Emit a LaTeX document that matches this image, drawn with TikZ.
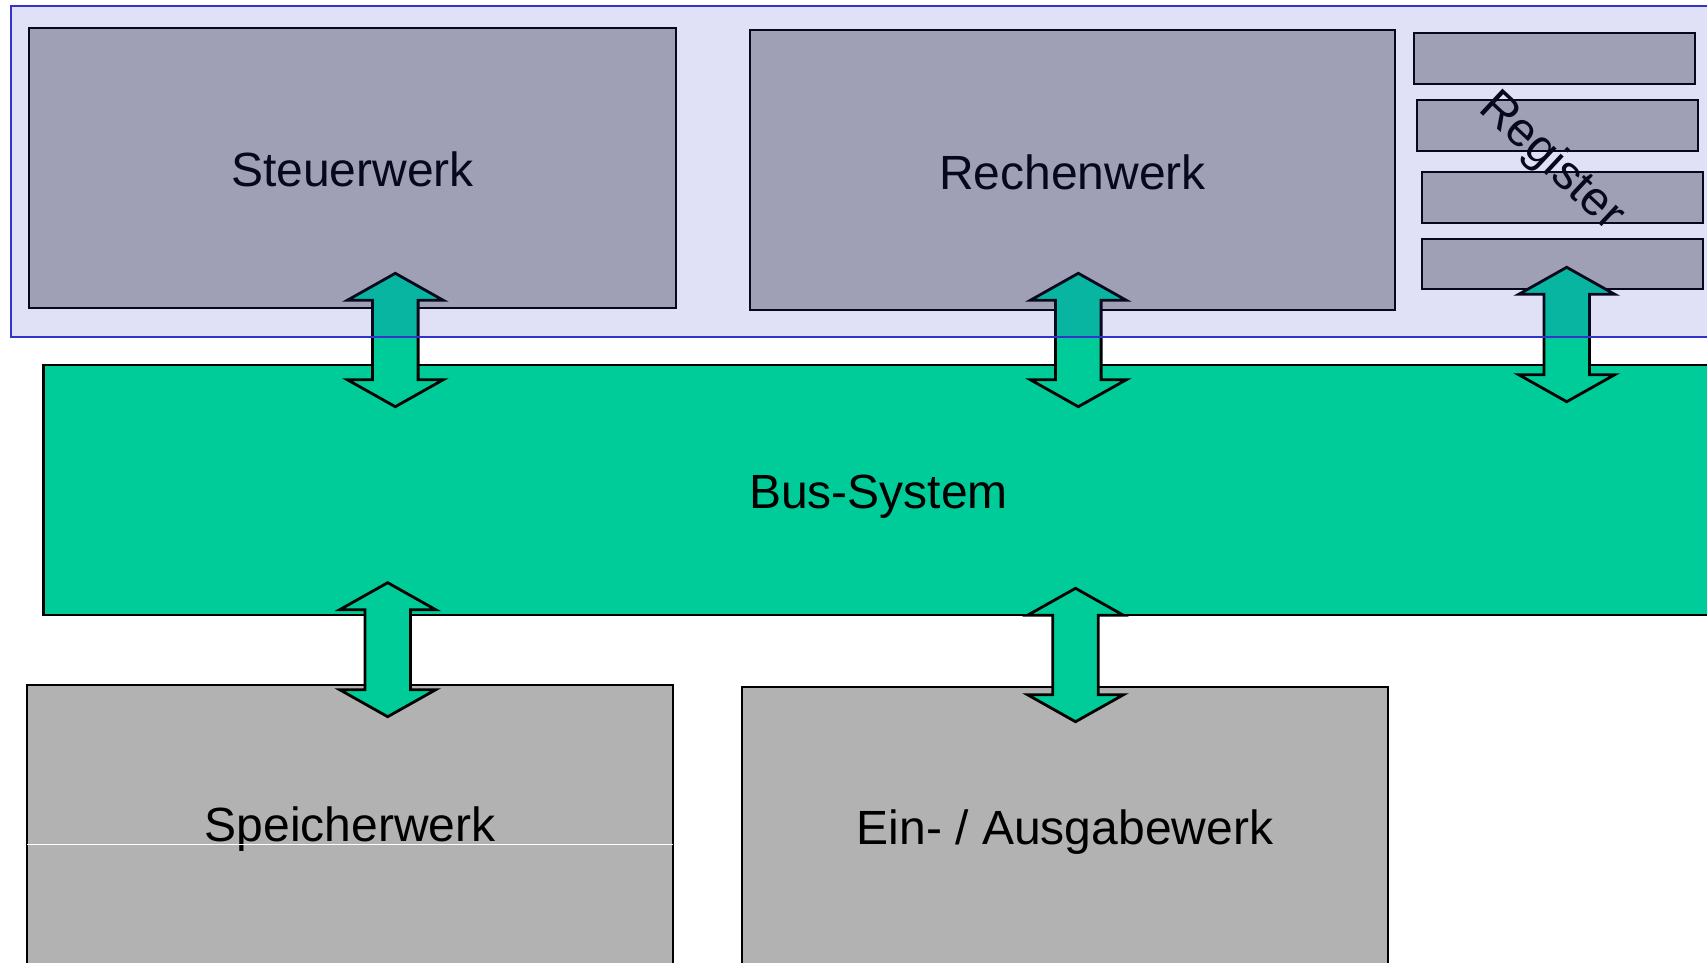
\documentclass[tikz,border=0pt]{standalone}
\usepackage{fontspec}
\setmainfont{Liberation Sans}
\definecolor{busgreen}{RGB}{0,204,153}
\definecolor{unitgray}{RGB}{178,178,178}
\definecolor{cpublue}{RGB}{51,51,204}
\tikzset{
  unit/.style={draw=black, line width=2.8pt, fill=unitgray, inner sep=0pt, outer sep=0pt,
    font=\fontsize{48}{58}\selectfont},
  regbox/.style={draw=black, line width=2.8pt, fill=unitgray, inner sep=0pt, outer sep=0pt},
  busbox/.style={draw=black, line width=2.8pt, fill=busgreen, inner sep=0pt, outer sep=0pt,
    font=\fontsize{48}{58}\selectfont},
  blockarrow/.style={draw=black, line width=2.8pt, fill=busgreen, line join=miter},
}
% lower a label inside its box without changing the box
\newcommand{\lowered}[2]{\raisebox{-#1}[\height][\depth]{#2}}
% double block arrow: centre x, upper tip y, lower tip y
\newcommand{\dblockarrow}[3]{%
  \draw[blockarrow] (#1,#2) -- ({#1+48},{#2+27}) -- ({#1+22.8},{#2+27})
    -- ({#1+22.8},{#3-27}) -- ({#1+48},{#3-27}) -- (#1,#3)
    -- ({#1-48},{#3-27}) -- ({#1-22.8},{#3-27}) -- ({#1-22.8},{#2+27})
    -- ({#1-48},{#2+27}) -- cycle;}
\begin{document}
\begin{tikzpicture}[x=1pt, y=-1pt]
\clip (0,0) rectangle (1707,963);
\fill[white] (0,0) rectangle (1707,963);

% processor units
\node[unit, minimum width=647, minimum height=280] (steuer) at (352.5,168) {\lowered{1.5pt}{Steuerwerk}};
\node[unit, minimum width=645, minimum height=280] (rechen) at (1072.5,170) {\lowered{2.5pt}{Rechenwerk}};

% register file
\node[regbox, minimum width=281, minimum height=51] (reg1) at (1554.5,58.5) {};
\node[regbox, minimum width=281, minimum height=51] (reg2) at (1557.5,125.5) {};
\node[regbox, minimum width=281, minimum height=51] (reg3) at (1562.5,197.5) {};
\node[regbox, minimum width=281, minimum height=50] (reg4) at (1562.5,264) {};
\node[rotate=-43, font=\fontsize{48}{58}\selectfont] (regtext) at (1551,162) {Register};

% bus
\node[busbox, minimum width=1670, minimum height=250] (bus) at (878.5,490) {\lowered{6.5pt}{Bus-System}};

% memory and I/O
\node[unit, minimum width=646, minimum height=280] (speicher) at (350,825) {\lowered{4.5pt}{Speicherwerk}};
\draw[white, line width=1pt] ([yshift=-19pt]speicher.west) -- ([yshift=-19pt]speicher.east);
\node[unit, minimum width=646, minimum height=280] (einaus) at (1065,827) {\lowered{5.5pt}{Ein- / Ausgabewerk}};

% bus connections
\dblockarrow{395.3}{273.3}{406.7}
\dblockarrow{1078.3}{273.3}{406.7}
\dblockarrow{1566.7}{267.3}{401.7}
\dblockarrow{387.7}{582.7}{716.7}
\dblockarrow{1075.5}{588.3}{721.7}

% processor frame
\fill[cpublue, opacity=0.15] (11,6) rectangle (1730,337);
\draw[cpublue, line width=2.5pt] (11,6) rectangle (1730,337);
\end{tikzpicture}
\end{document}
